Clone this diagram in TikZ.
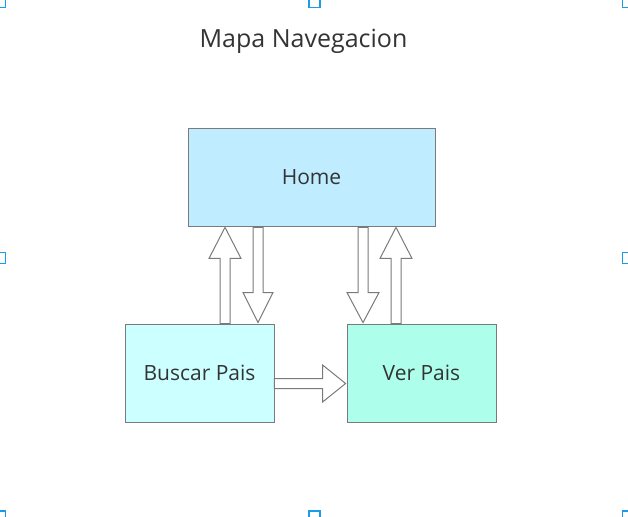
\documentclass[tikz,border=0pt]{standalone}
\usepackage{fontspec}
\setmainfont{Open Sans}
\usetikzlibrary{calc}

\definecolor{borde}{HTML}{7A7A7A}
\definecolor{texto}{HTML}{333333}
\definecolor{azulhome}{HTML}{BFEDFF}
\definecolor{azulbuscar}{HTML}{CCFFFF}
\definecolor{verdever}{HTML}{ADFFEB}
\definecolor{asa}{HTML}{1A9CE8}

\tikzset{
  pantalla/.style={draw=borde, line width=0.8pt, text=texto, font=\fontsize{21}{25}\selectfont,
    minimum width=149pt, minimum height=98pt, inner sep=0pt},
  flechabox/.style={draw=borde, line width=1pt, fill=white, line join=miter},
  asabox/.style={draw=asa, line width=1.2pt, fill=white}
}

% flecha de bloque: origen, destino, largo de cabeza, media anchura de cabeza
\newcommand{\flecha}[4]{%
  \draw[flechabox] let \p1=(#1), \p2=(#2),
    \n1={atan2(\y2-\y1,\x2-\x1)}, \n2={veclen(\x2-\x1,\y2-\y1)} in
    [shift={(\p1)}, rotate=\n1]
    (0pt,-5pt) -- (\n2-#3,-5pt) -- (\n2-#3,-#4) -- (\n2,0pt)
    -- (\n2-#3,#4) -- (\n2-#3,5pt) -- (0pt,5pt) -- cycle;}

\begin{document}
\begin{tikzpicture}[x=1pt,y=-1pt]
  \useasboundingbox (0,0) rectangle (628,516);

  % asas de seleccion
  \foreach \hx/\hy in {0/2, 314.5/2, 628/2, 0/258, 628/258, 0/516.5, 314.5/516.5, 628/516.5}
    \draw[asabox] (\hx-5.5,\hy-5.5) rectangle (\hx+5.5,\hy+5.5);

  \node[text=texto, font=\fontsize{25}{30}\selectfont] (titulo) at (303.5,41.5) {Mapa Navegacion};

  \node[pantalla, fill=azulhome, minimum width=247pt] (home) at (311.5,177) {Home};
  \node[pantalla, fill=azulbuscar] (buscar) at (199.5,373) {Buscar Pais};
  \node[pantalla, fill=verdever] (ver) at (421.5,373) {Ver Pais};

  \coordinate (bu1) at ($(buscar.north)+(25.5,0)$);
  \coordinate (bu2) at ($(buscar.north)+(58.5,0)$);
  \coordinate (ve1) at ($(ver.north)+(-58.5,0)$);
  \coordinate (ve2) at ($(ver.north)+(-25.5,0)$);
  \coordinate (bu3) at ($(buscar.east)+(0,10.5)$);

  \flecha{bu1}{$(bu1 |- home.south)+(0,1)$}{31pt}{16pt}
  \flecha{$(bu2 |- home.south)+(0,1)$}{$(bu2)+(0,-1)$}{30pt}{15pt}
  \flecha{$(ve1 |- home.south)+(0,1)$}{$(ve1)+(0,-1)$}{30pt}{16pt}
  \flecha{ve2}{$(ve2 |- home.south)+(0,1)$}{31pt}{16pt}
  \flecha{bu3}{$(bu3 -| ver.west)+(-1,0)$}{23pt}{18.5pt}
\end{tikzpicture}
\end{document}
